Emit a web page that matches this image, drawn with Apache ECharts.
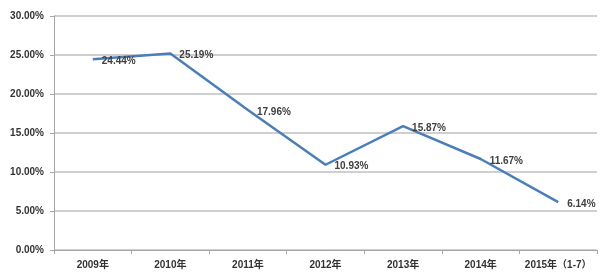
<!DOCTYPE html>
<html>
<head>
<meta charset="utf-8">
<script src="https://cdn.jsdelivr.net/npm/echarts@6/dist/echarts.min.js"></script>
<style>html,body{margin:0;padding:0;background:#fff;}#c{width:600px;height:280px;}</style>
</head>
<body>
<div id="c"></div>
<script>
var categories = ['2009年', '2010年', '2011年', '2012年', '2013年', '2014年', '2015年（1-7）'];
var values = [24.44, 25.19, 17.96, 10.93, 15.87, 11.67, 6.14];
var yTicks = [0, 5, 10, 15, 20, 25, 30];

var fam = '"Liberation Sans", "Noto Sans CJK SC", sans-serif';
var chart = echarts.init(document.getElementById('c'), null, {renderer: 'canvas'});
chart.setOption({
  animation: false,
  backgroundColor: '#ffffff',
  grid: {left: 54, right: 3, top: 16, bottom: 30, containLabel: false},
  xAxis: {
    type: 'category',
    data: categories,
    boundaryGap: true,
    axisLine: {lineStyle: {color: '#a6a6a6', width: 1}},
    axisTick: {show: true, length: 4, lineStyle: {color: '#a6a6a6'}},
    axisLabel: {interval: 0, color: '#333333', fontSize: 10, fontWeight: 'bold', margin: 10, fontFamily: fam}
  },
  yAxis: {
    type: 'value',
    min: yTicks[0],
    max: yTicks[yTicks.length - 1],
    interval: 5,
    axisLine: {show: true, lineStyle: {color: '#a6a6a6', width: 1}},
    axisTick: {show: true, length: 4, lineStyle: {color: '#a6a6a6'}},
    splitLine: {show: true, lineStyle: {color: '#bfbfbf', width: 1.5}},
    axisLabel: {color: '#333333', fontSize: 10, fontWeight: 'bold', margin: 10, fontFamily: fam,
      formatter: function (v) { return v.toFixed(2) + '%'; }}
  },
  series: [{
    type: 'line',
    data: values,
    symbol: 'circle',
    symbolSize: 2,
    showSymbol: true,
    itemStyle: {color: 'rgba(74,126,187,0)', borderWidth: 0},
    lineStyle: {color: '#4a7ebb', width: 2.5},
    label: {
      show: true,
      position: 'right',
      distance: 8,
      offset: [0, 2],
      color: '#404040',
      fontSize: 10,
      fontWeight: 'bold',
      fontFamily: fam,
      formatter: function (p) { return Number(p.value).toFixed(2) + '%'; }
    }
  }]
});
</script>
</body>
</html>
